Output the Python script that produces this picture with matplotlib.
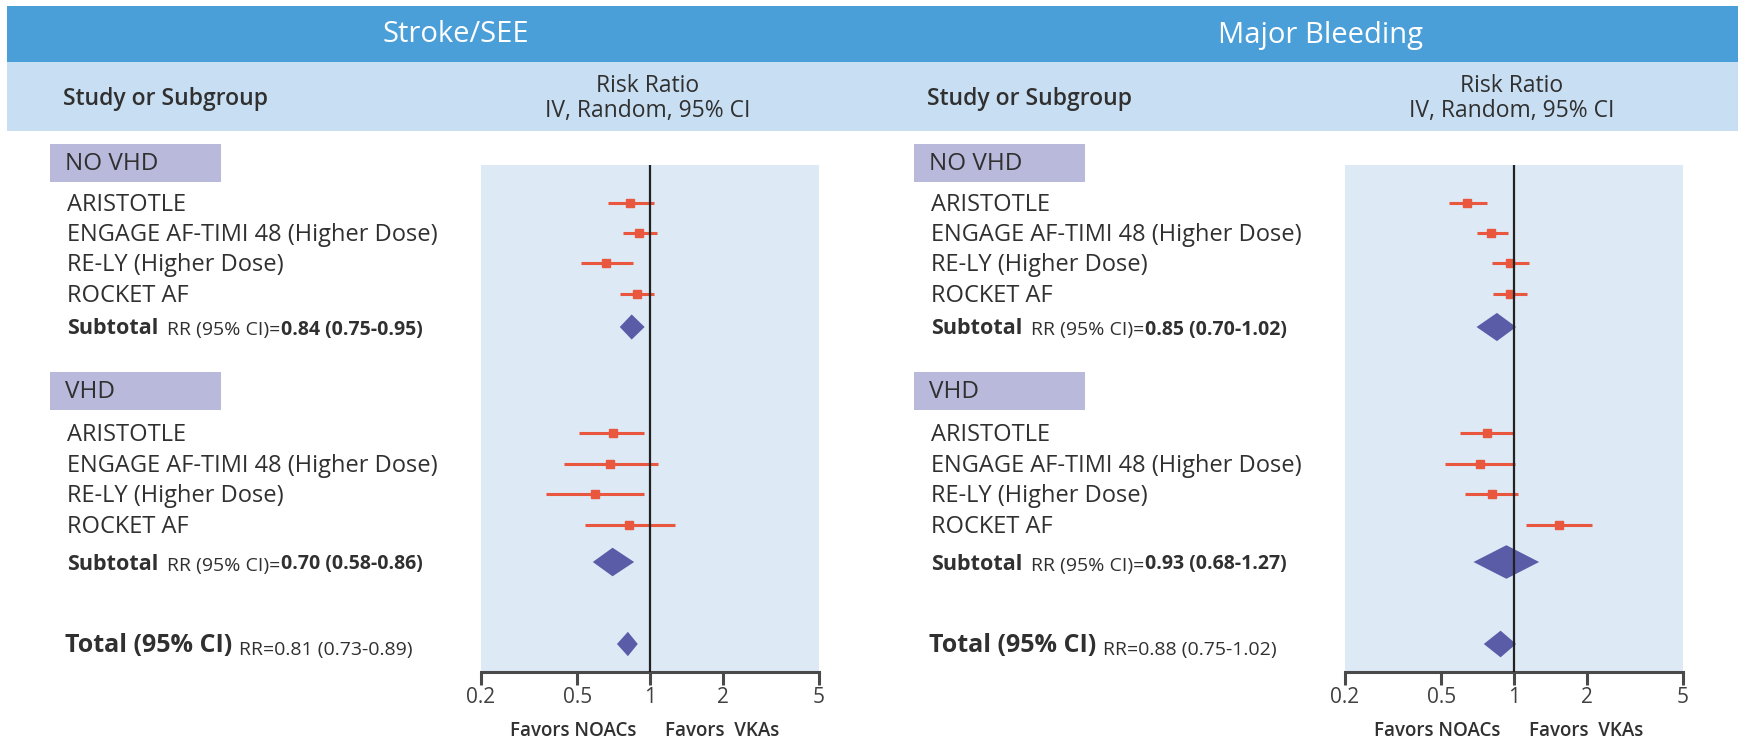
import numpy as np
import matplotlib
matplotlib.use('Agg')
import matplotlib.pyplot as plt
from matplotlib.patches import Rectangle
from matplotlib.ticker import NullLocator

plt.rcParams['font.family'] = ['Open Sans', 'DejaVu Sans']

# data
studies = ['ARISTOTLE', 'ENGAGE AF-TIMI 48 (Higher Dose)', 'RE-LY (Higher Dose)', 'ROCKET AF']
groups = ['NO VHD', 'VHD']

stroke_novhd_rr = [0.83, 0.90, 0.66, 0.88]
stroke_novhd_lo = [0.67, 0.77, 0.52, 0.75]
stroke_novhd_hi = [1.04, 1.07, 0.85, 1.04]
stroke_vhd_rr = [0.70, 0.68, 0.59, 0.82]
stroke_vhd_lo = [0.51, 0.44, 0.37, 0.54]
stroke_vhd_hi = [0.94, 1.08, 0.94, 1.27]
stroke_subtotal = [(0.84, 0.75, 0.95), (0.70, 0.58, 0.86)]
stroke_total = (0.81, 0.73, 0.89)

bleed_novhd_rr = [0.64, 0.80, 0.96, 0.96]
bleed_novhd_lo = [0.54, 0.70, 0.81, 0.82]
bleed_novhd_hi = [0.77, 0.94, 1.15, 1.13]
bleed_vhd_rr = [0.77, 0.72, 0.81, 1.53]
bleed_vhd_lo = [0.60, 0.52, 0.63, 1.12]
bleed_vhd_hi = [1.00, 1.01, 1.04, 2.11]
bleed_subtotal = [(0.85, 0.70, 1.02), (0.93, 0.68, 1.27)]
bleed_total = (0.88, 0.75, 1.02)

ticks = [0.2, 0.5, 1, 2, 5]
tick_labels = ['0.2', '0.5', '1', '2', '5']

# layout (pixels from top-left)
W, H = 1738, 742
box_y = [144, 372]
row_y = [[203, 233, 263, 294], [433, 464, 494, 525]]
sub_y = [327, 562]
total_y = 644

TXT = '#303030'
RED = '#e8573e'
PURPLE = '#5a5ca8'

fig = plt.figure(figsize=(W / 100, H / 100), dpi=100)
bg = fig.add_axes([0, 0, 1, 1])
bg.set_xlim(0, W)
bg.set_ylim(H, 0)
bg.axis('off')

bg.add_patch(Rectangle((7, 6), W - 7, 56, color='#4b9fd9', lw=0))
bg.add_patch(Rectangle((7, 62), W - 7, 69, color='#c8def2', lw=0))


def chain(prev, s, gap, **kw):
    return bg.annotate(s, xy=(1, 0), xycoords=prev, xytext=(gap, 0),
                       textcoords='offset pixels', ha='left', va='bottom',
                       color=TXT, **kw)


def fmt(v):
    return f'{v[0]:.2f} ({v[1]:.2f}-{v[2]:.2f})'


def forest(dx, title, sets, subs, total):
    bg.text(456 + dx, 35, title, color='white', fontsize=21, ha='center', va='center')
    bg.text(63 + dx, 99, 'Study or Subgroup', fontsize=16.5, weight='semibold',
            color=TXT, va='center')
    bg.text(648 + dx, 86, 'Risk Ratio', fontsize=16.5, ha='center', va='center', color=TXT)
    bg.text(648 + dx, 111, 'IV, Random, 95% CI', fontsize=16.5, ha='center',
            va='center', color=TXT)

    left, right, top, bottom = 481 + dx, 819 + dx, 165, 672
    ax = fig.add_axes([left / W, 1 - bottom / H, (right - left) / W, (bottom - top) / H])
    ax.set_facecolor('#dde9f5')
    ax.set_xscale('log')
    ax.set_xlim(0.2, 5)
    ax.set_ylim(bottom, top)
    ax.set_yticks([])
    ax.set_xticks(ticks)
    ax.set_xticklabels(tick_labels)
    ax.xaxis.set_minor_locator(NullLocator())
    for side in ['top', 'left', 'right']:
        ax.spines[side].set_visible(False)
    ax.spines['bottom'].set_color('#4a4a4a')
    ax.spines['bottom'].set_linewidth(2.2)
    ax.tick_params(axis='x', direction='out', length=9, width=2.2, color='#4a4a4a',
                   labelsize=15, labelcolor='#404040', pad=2)
    ax.axvline(1, color='#222222', lw=1.6, zorder=4)

    for g, (rr, lo, hi) in enumerate(sets):
        bg.add_patch(Rectangle((50 + dx, box_y[g]), 171, 38, color='#b9b9dc', lw=0))
        bg.text(65 + dx, box_y[g] + 20, groups[g], fontsize=17.5, color=TXT, va='center')
        for name, y in zip(studies, row_y[g]):
            bg.text(67 + dx, y + 2, name, fontsize=17, color=TXT, va='center')
        ax.hlines(row_y[g], lo, hi, color=RED, lw=2.2, zorder=3)
        ax.plot(rr, row_y[g], 's', ms=5.5, color=RED, zorder=3)

        est, slo, shi = subs[g]
        t = bg.text(67 + dx, sub_y[g] + 2, 'Subtotal', fontsize=15.5, weight='bold',
                    color=TXT, va='center')
        t = chain(t, 'RR (95% CI)=', 9, fontsize=14)
        chain(t, fmt(subs[g]), 0, fontsize=14, weight='bold')
        h = 10 + 25 * (np.log10(shi) - np.log10(slo))
        ax.fill([slo, est, shi, est], [sub_y[g], sub_y[g] - h, sub_y[g], sub_y[g] + h],
                color=PURPLE, lw=0, zorder=3)

    est, tlo, thi = total
    t = bg.text(65 + dx, total_y + 2, 'Total (95% CI)', fontsize=18, weight='bold',
                color=TXT, va='center')
    chain(t, 'RR=' + fmt(total), 7, fontsize=14)
    h = 10 + 25 * (np.log10(thi) - np.log10(tlo))
    ax.fill([tlo, est, thi, est], [total_y, total_y - h, total_y, total_y + h],
            color=PURPLE, lw=0, zorder=3)

    ax.annotate('Favors NOACs', xy=(1, 731), xytext=(-10, 0), textcoords='offset points',
                ha='right', va='center', fontsize=13.5, weight='semibold', color=TXT,
                annotation_clip=False)
    ax.annotate('Favors  VKAs', xy=(1, 731), xytext=(11, 0), textcoords='offset points',
                ha='left', va='center', fontsize=13.5, weight='semibold', color=TXT,
                annotation_clip=False)


forest(0, 'Stroke/SEE',
       [(stroke_novhd_rr, stroke_novhd_lo, stroke_novhd_hi),
        (stroke_vhd_rr, stroke_vhd_lo, stroke_vhd_hi)],
       stroke_subtotal, stroke_total)
forest(864, 'Major Bleeding',
       [(bleed_novhd_rr, bleed_novhd_lo, bleed_novhd_hi),
        (bleed_vhd_rr, bleed_vhd_lo, bleed_vhd_hi)],
       bleed_subtotal, bleed_total)

fig.savefig('out.png', dpi=100)
